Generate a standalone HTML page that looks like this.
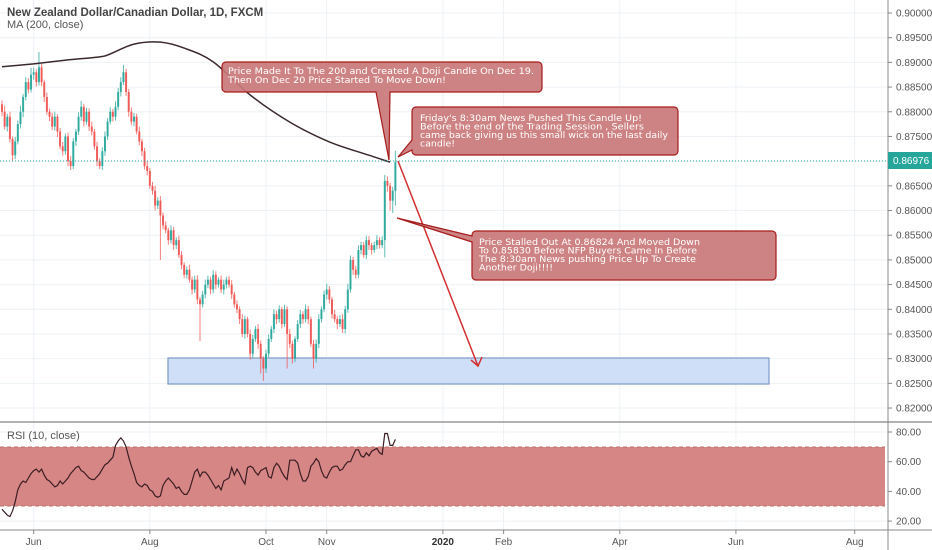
<!DOCTYPE html>
<html><head><meta charset="utf-8"><style>
html,body{margin:0;padding:0;background:#fff;}
svg{display:block;font-family:"Liberation Sans",sans-serif;}
.ct{font-family:"DejaVu Sans",sans-serif;font-size:9px;fill:#fff;}
</style></head><body>
<svg id="chart" width="932" height="550" viewBox="0 0 932 550" xmlns="http://www.w3.org/2000/svg">
<g id="grid"></g>
<rect x="168" y="358" width="601" height="26" fill="#cfdff7" stroke="#7f99c9" stroke-width="1.2"/>
<g id="candles"></g>
<path id="ma" fill="none" stroke="#3b2a2d" stroke-width="1.5"/>
<line x1="0" y1="161" x2="888" y2="161" stroke="#26a69a" stroke-width="1" stroke-dasharray="1,2"/>
<g stroke="#d32f2f" stroke-width="1.5" fill="none">
<line x1="398" y1="161" x2="478" y2="366"/>
<polyline points="471,360 478,366 482,357"/>
</g>
<g>
<path d="M226,62 H538 a4,4 0 0 1 4,4 V88 a4,4 0 0 1 -4,4 H390 L389,160 L376,92 H226 a4,4 0 0 1 -4,-4 V66 a4,4 0 0 1 4,-4Z" fill="#c97878" fill-opacity="0.92" stroke="#a81c1c" stroke-width="1.2"/>
<text class="ct" x="228" y="74" textLength="306" lengthAdjust="spacingAndGlyphs">Price Made It To The 200 and Created A Doji Candle On Dec 19.</text>
<text class="ct" x="228" y="83" textLength="218" lengthAdjust="spacingAndGlyphs">Then On Dec 20 Price Started To Move Down!</text>
</g>
<g>
<path d="M416,107 H674 a4,4 0 0 1 4,4 V151 a4,4 0 0 1 -4,4 H416 a4,4 0 0 1 -4,-4 V150 L398,157 L412,140 V111 a4,4 0 0 1 4,-4Z" fill="#c97878" fill-opacity="0.92" stroke="#a81c1c" stroke-width="1.2"/>
<text class="ct" x="420" y="121" textLength="222" lengthAdjust="spacingAndGlyphs">Friday's 8:30am News Pushed This Candle Up!</text>
<text class="ct" x="420" y="129.5" textLength="224" lengthAdjust="spacingAndGlyphs">Before the end of the Trading Session , Sellers</text>
<text class="ct" x="420" y="138" textLength="248" lengthAdjust="spacingAndGlyphs">came back giving us this small wick on the last daily</text>
<text class="ct" x="420" y="146.5" textLength="35" lengthAdjust="spacingAndGlyphs">candle!</text>
</g>
<g>
<path d="M397,218 L472,236 V235 a4,4 0 0 1 4,-4 H772 a4,4 0 0 1 4,4 V276 a4,4 0 0 1 -4,4 H476 a4,4 0 0 1 -4,-4 V242 Z" fill="#c97878" fill-opacity="0.92" stroke="#a81c1c" stroke-width="1.2"/>
<text class="ct" x="479" y="245" textLength="221" lengthAdjust="spacingAndGlyphs">Price Stalled Out At 0.86824 And Moved Down</text>
<text class="ct" x="479" y="253.5" textLength="218" lengthAdjust="spacingAndGlyphs">To 0.85830 Before NFP Buyers Came In Before</text>
<text class="ct" x="479" y="262" textLength="217" lengthAdjust="spacingAndGlyphs">The 8:30am News pushing Price Up To Create</text>
<text class="ct" x="479" y="270.5" textLength="74" lengthAdjust="spacingAndGlyphs">Another Doji!!!!</text>
</g>
<rect x="0" y="447" width="885" height="59" fill="#d78686"/>
<line x1="0" y1="447" x2="885" y2="447" stroke="#c07070" stroke-dasharray="4,3"/>
<line x1="0" y1="506" x2="885" y2="506" stroke="#c07070" stroke-dasharray="4,3"/>
<polyline id="rsi" fill="none" stroke="#3b1d22" stroke-width="1.2"/>
<line x1="0" y1="422" x2="932" y2="422" stroke="#9a9a9a" stroke-width="1.5"/>
<line x1="0" y1="530" x2="932" y2="530" stroke="#888" stroke-width="1"/>
<line x1="888" y1="0" x2="888" y2="550" stroke="#888" stroke-width="1"/>
<g id="axes" font-size="10" fill="#555"></g>
<rect x="888" y="152" width="44" height="17" fill="#26a69a"/>
<text x="893" y="164" font-size="10" fill="#fff">0.86976</text>
<text x="7" y="16" font-size="11.5" fill="#444" font-weight="bold">New Zealand Dollar/Canadian Dollar, 1D, FXCM</text>
<text x="7" y="28" font-size="11" fill="#555">MA (200, close)</text>
<text x="7" y="439" font-size="11" fill="#555">RSI (10, close)</text>
</svg>
<script>
const closes=[.8800,.8770,.8790,.8745,.8712,.8740,.8775,.8800,.8830,.8860,.8845,.8875,.8880,.8860,.8890,.8860,.8830,.8800,.8790,.8770,.8790,.8760,.8730,.8720,.8750,.8700,.8690,.8740,.8760,.8790,.8810,.8780,.8800,.8770,.8760,.8730,.8700,.8690,.8720,.8750,.8780,.8800,.8790,.8810,.8840,.8860,.8880,.8840,.8800,.8780,.8790,.8760,.8740,.8720,.8690,.8680,.8650,.8640,.8610,.8620,.8590,.8570,.8560,.8540,.8560,.8530,.8540,.8510,.8490,.8470,.8480,.8460,.8440,.8460,.8420,.8410,.8430,.8450,.8460,.8440,.8470,.8450,.8460,.8440,.8450,.8460,.8450,.8430,.8410,.8400,.8380,.8350,.8380,.8350,.8310,.8340,.8360,.8330,.8300,.8280,.8310,.8340,.8360,.8390,.8380,.8400,.8370,.8400,.8350,.8330,.8300,.8340,.8370,.8390,.8380,.8400,.8380,.8330,.8300,.8330,.8380,.8400,.8430,.8440,.8420,.8390,.8380,.8370,.8380,.8360,.8400,.8440,.8500,.8480,.8470,.8520,.8530,.8510,.8540,.8530,.8520,.8530,.8540,.8530,.8540,.8660,.8650,.8620,.8640,.8698];
const upWick=[8,12,6,10,5,9,7,12,6,10,8,14,9,6,31,7,5,9,6,8,10,5,7,9,6,8,10,7,5,9,12,6,8,7,10,5,9,6,8,10,7,9,6,11,8,10,15,7,6,9,8,6,10,5,7,9,6,8,10,7,9,6,8,5,10,7,6,9,8,5,7,10,6,8,9,5,7,10,8,6,9,7,5,8,10,6,7,9,5,8,6,10,7,5,9,8,6,10,7,5,8,9,6,10,7,8,5,9,6,10,7,5,8,9,6,10,7,5,8,9,10,6,8,12,7,5,9,6,8,10,7,12,9,6,8,10,7,6,9,8,5,7,10,6,8,12,9,6,8,23];
const downWick=[9,6,10,7,12,8,6,9,11,7,8,6,10,9,7,8,10,6,9,7,8,11,6,9,7,10,8,6,9,7,8,10,6,9,8,7,10,6,8,9,7,6,10,8,7,9,6,8,10,7,9,6,8,10,7,9,6,8,10,7,90,8,6,9,7,10,8,6,9,7,8,6,10,7,9,75,6,8,7,10,8,9,6,7,10,8,6,9,7,8,10,6,9,7,12,8,6,10,30,25,9,7,6,8,10,7,9,6,70,9,10,7,6,8,9,7,10,6,20,8,9,7,6,10,8,9,7,10,6,8,9,7,6,10,8,7,9,6,8,10,9,6,8,7,6,35,12,20,25,30];
const maIndex=[0,12,25,37,41,50,60,69,80,94,109,124,139,147];
const maValues=[.8891,.8897,.8905,.8911,.8917,.8937,.8941,.8929,.8901,.8834,.8779,.8739,.8712,.8698];
const rsiValues=[28,26,24,23,27,33,41,45,47,46,49,52,54,55,53,55,51,48,47,45,43,44,47,45,47,49,52,54,56,57,54,53,51,49,48,48,50,52,55,58,59,61,63,71,74,76,74,70,63,57,52,46,44,43,45,44,41,40,37,36,37,44,47,49,47,45,42,43,40,38,38,41,47,53,55,50,53,53,51,48,45,42,44,41,47,48,49,56,51,55,52,48,45,56,57,56,53,51,54,55,56,50,49,56,59,57,53,50,48,61,61,61,59,52,47,47,50,57,59,62,60,54,50,49,53,56,57,57,54,55,58,60,60,64,68,68,64,63,66,64,67,68,69,66,65,79,79,71,71,75];
const priceTicks=[.90,.895,.89,.885,.88,.875,.87,.865,.86,.855,.85,.845,.84,.835,.83,.825,.82];
const rsiTicks=[80,60,40,20];
const dateLabels=["Jun","Aug","Oct","Nov","2020","Feb","Apr","Jun","Aug"];
const dateBars=[12,56,100,123,167,190,234,278,323];

const NS="http://www.w3.org/2000/svg";
const xOf=i=>2+i*2.64;
const yOf=p=>13+(0.9-p)/0.005*24.69;
const yRsi=v=>432+(80-v)*1.485;
function mk(t,a,parent){const e=document.createElementNS(NS,t);for(const k in a)e.setAttribute(k,a[k]);parent.appendChild(e);return e;}
const grid=document.getElementById('grid'),axes=document.getElementById('axes'),cg=document.getElementById('candles');
priceTicks.forEach(p=>{const y=yOf(p);
 const l=mk('line',{x1:0,x2:888,y1:y,y2:y,stroke:'#eef2f6'},grid);
 
 
 const t=mk('text',{x:896,y:y+3.5},axes);t.textContent=p.toFixed(5);
 
 
 mk('line',{x1:888,x2:892,y1:y,y2:y,stroke:'#888'},axes);
});
rsiTicks.forEach(v=>{const y=yRsi(v);
 mk('line',{x1:0,x2:888,y1:y,y2:y,stroke:'#eef2f6'},grid);
 const t=mk('text',{x:896,y:y+3.5},axes);t.textContent=v.toFixed(2);
 
 
 mk('line',{x1:888,x2:892,y1:y,y2:y,stroke:'#888'},axes);
});
dateLabels.forEach((d,k)=>{const x=xOf(dateBars[k]);
 mk('line',{x1:x,x2:x,y1:0,y2:530,stroke:'#eef2f6'},grid);
 mk('line',{x1:x,x2:x,y1:530,y2:534,stroke:'#888'},axes);
 const t=mk('text',{x:x,y:545,'text-anchor':'middle',fill:d==='2020'?'#333':'#555','font-weight':d==='2020'?'bold':'normal'},axes);t.textContent=d;
 
 
});
closes.forEach((c,i)=>{
 const o=i===0?c+0.0015:closes[i-1];
 const up=c>=o,col=up?'#26a69a':'#ef5350';
 const hi=Math.max(o,c)+upWick[i]*0.0001,lo=Math.min(o,c)-downWick[i]*0.0001;
 const x=xOf(i);
 const w=mk('line',{x1:x,x2:x,y1:yOf(hi),y2:yOf(lo),stroke:col,'stroke-width':1,opacity:0.75},cg);
 
 
 const yt=yOf(Math.max(o,c)),yb=yOf(Math.min(o,c));
 const b=mk('rect',{x:x-1,y:yt,width:2,height:Math.max(1,yb-yt),fill:col,opacity:0.9},cg);
 
 
});
// MA: Catmull-Rom smoothed path through points
const pts=maIndex.map((i,k)=>[xOf(i),yOf(maValues[k])]);
let d='M'+pts[0][0].toFixed(1)+','+pts[0][1].toFixed(1);
for(let k=0;k<pts.length-1;k++){
 const p0=pts[k-1]||pts[k],p1=pts[k],p2=pts[k+1],p3=pts[k+2]||p2;
 const c1=[p1[0]+(p2[0]-p0[0])/6,p1[1]+(p2[1]-p0[1])/6];
 const c2=[p2[0]-(p3[0]-p1[0])/6,p2[1]-(p3[1]-p1[1])/6];
 d+='C'+c1.map(v=>v.toFixed(1)).join(',')+' '+c2.map(v=>v.toFixed(1)).join(',')+' '+p2.map(v=>v.toFixed(1)).join(',');
}
document.getElementById('ma').setAttribute('d',d);
document.getElementById('rsi').setAttribute('points',rsiValues.map((v,i)=>xOf(i).toFixed(1)+','+yRsi(v).toFixed(1)).join(' '));
</script>
</body></html>
